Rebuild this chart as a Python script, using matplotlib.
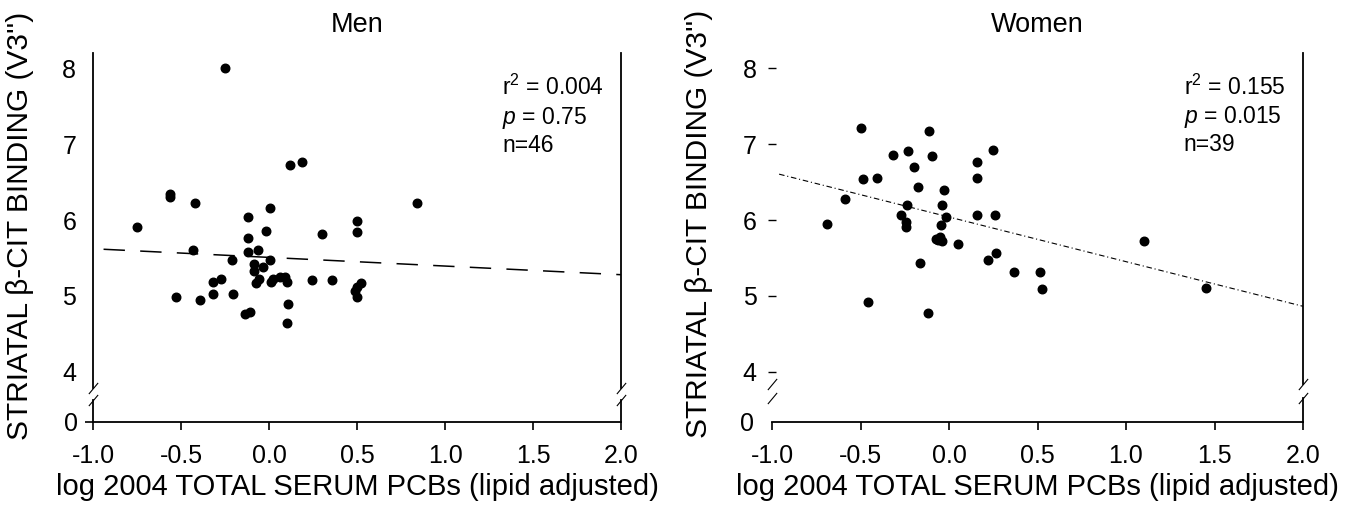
import numpy as np
import matplotlib
matplotlib.use("Agg")
import matplotlib.pyplot as plt

plt.rcParams['font.family'] = ['Liberation Sans', 'DejaVu Sans']
plt.rcParams['axes.unicode_minus'] = False
plt.rcParams['mathtext.fontset'] = 'custom'
plt.rcParams['mathtext.rm'] = 'Liberation Sans'
plt.rcParams['mathtext.it'] = 'Liberation Sans:italic'

# data
men_x = [-0.25, 0.119, 0.189, -0.562, -0.562, -0.419, -0.752, -0.118, 0.006, -0.019,
         0.299, 0.498, 0.498, -0.121, -0.121, -0.061, -0.430, -0.209, 0.006, -0.085,
         -0.085, -0.032, -0.273, -0.320, -0.320, -0.528, -0.392, -0.203, -0.136, -0.108,
         -0.074, -0.055, 0.010, 0.024, 0.063, 0.091, 0.101, 0.244, 0.356, 0.110,
         0.101, 0.498, 0.489, 0.498, 0.523, 0.839]
men_y = [8.00, 6.72, 6.76, 6.34, 6.30, 6.23, 5.91, 6.04, 6.16, 5.86,
         5.82, 5.99, 5.84, 5.77, 5.58, 5.60, 5.60, 5.47, 5.47, 5.42,
         5.33, 5.38, 5.22, 5.18, 5.03, 4.99, 4.95, 5.03, 4.76, 4.79,
         5.17, 5.22, 5.19, 5.23, 5.25, 5.25, 5.19, 5.21, 5.21, 4.89,
         4.64, 5.12, 5.06, 4.98, 5.17, 6.22]

women_x = [-0.497, -0.111, -0.318, -0.230, -0.098, -0.198, 0.250, 0.156, 0.156, -0.484,
           -0.408, -0.177, -0.028, -0.588, -0.239, -0.040, -0.688, -0.271, -0.245, -0.245,
           -0.017, -0.045, -0.051, -0.075, -0.041, -0.062, 0.053, 0.156, 0.260, 0.266,
           0.219, -0.162, 0.367, 0.514, 0.525, -0.458, -0.117, 1.10, 1.45]
women_y = [7.21, 7.17, 6.86, 6.91, 6.84, 6.70, 6.92, 6.76, 6.55, 6.54,
           6.56, 6.44, 6.39, 6.28, 6.20, 6.20, 5.95, 6.07, 5.97, 5.91,
           6.04, 5.93, 5.78, 5.75, 5.72, 5.74, 5.68, 6.07, 6.06, 5.56,
           5.47, 5.44, 5.32, 5.31, 5.09, 4.92, 4.77, 5.72, 5.10]

# regression lines: (intercept, slope, x start, x end)
men_fit = (5.508, -0.114, -0.94, 2.0)
women_fit = (6.04, -0.588, -0.96, 2.0)

men_stats = ["r$^2$ = 0.004", "$p$ = 0.75", "n=46"]
women_stats = ["r$^2$ = 0.155", "$p$ = 0.015", "n=39"]

x_ticks = [-1.0, -0.5, 0.0, 0.5, 1.0, 1.5, 2.0]
y_ticks = [4, 5, 6, 7, 8]

ylabel = "STRIATAL \u03b2-CIT BINDING (V3'')"
xlabel = "log 2004 TOTAL SERUM PCBs (lipid adjusted)"

W, H = 1358, 508
fig = plt.figure(figsize=(W / 100, H / 100), dpi=100)


def box(l, r, t, b):
    return [l / W, 1 - b / H, (r - l) / W, (b - t) / H]


def panel(l, r, brk_top, brk_bot, title, xs, ys, fit, stats, show_left, line_kw):
    up = fig.add_axes(box(l, r, 53, brk_top))
    lo = fig.add_axes(box(l, r, brk_bot, 421.7))
    ymin_up = 8 - (brk_top - 68.3) / 75.9
    up.set_ylim(ymin_up, 8.2)
    lo.set_ylim(0, (421.7 - brk_bot) / 75.9)
    for a in (up, lo):
        a.set_xlim(-1.0, 2.0)
        a.spines['top'].set_visible(False)
        a.spines['left'].set_visible(show_left)
        for s in a.spines.values():
            s.set_linewidth(1.3)
        a.patch.set_alpha(0)
    up.spines['bottom'].set_visible(False)
    up.set_xticks([])
    up.set_yticks(y_ticks)
    lo.set_yticks([0])
    lo.set_xticks(x_ticks)
    lo.set_xticklabels([f"{v:.1f}" for v in x_ticks])
    lo.tick_params(axis='x', length=6, width=1.2, pad=10, labelsize=18)
    if show_left:
        up.tick_params(axis='y', length=0, pad=12, labelsize=18)
        lo.tick_params(axis='y', length=6, width=1.2, pad=5, labelsize=18)
    else:
        up.tick_params(axis='y', length=6, direction='inout', width=1.0, pad=8, labelsize=18)
        lo.tick_params(axis='y', length=0, pad=13, labelsize=18)

    up.scatter(xs, ys, s=38, color='black', zorder=3, clip_on=False)
    b0, b1, x0, x1 = fit
    fx = np.array([x0, x1])
    up.plot(fx, b0 + b1 * fx, color='black', **line_kw)

    up.set_title(title, fontsize=19.5, pad=15)
    up.set_ylabel(ylabel, fontsize=21.5)
    up.yaxis.set_label_coords(-0.112, 0.485)
    lo.set_xlabel(xlabel, fontsize=21, labelpad=4)

    for i, s in enumerate(stats):
        up.text(0.775, 0.874 - i * 0.085, s, transform=up.transAxes,
                fontsize=16.5, va='baseline', ha='left')

    # axis break marks
    kw = dict(marker=[(-1, -1.2), (1, 1.2)], markersize=8, linestyle='none',
              color='black', mec='black', mew=0.8, clip_on=False)
    up.plot([0, 1], [0, 0], transform=up.transAxes, **kw)
    lo.plot([0, 1], [1, 1], transform=lo.transAxes, **kw)


panel(93, 621, 388, 400, "Men", men_x, men_y, men_fit, men_stats, True,
      dict(lw=1.1, dashes=(14, 10)))
panel(772, 1303, 384, 398, "Women", women_x, women_y, women_fit, women_stats, False,
      dict(lw=0.8, dashes=(5, 2.5, 1, 2.5)))

fig.savefig("out.png", dpi=100)
